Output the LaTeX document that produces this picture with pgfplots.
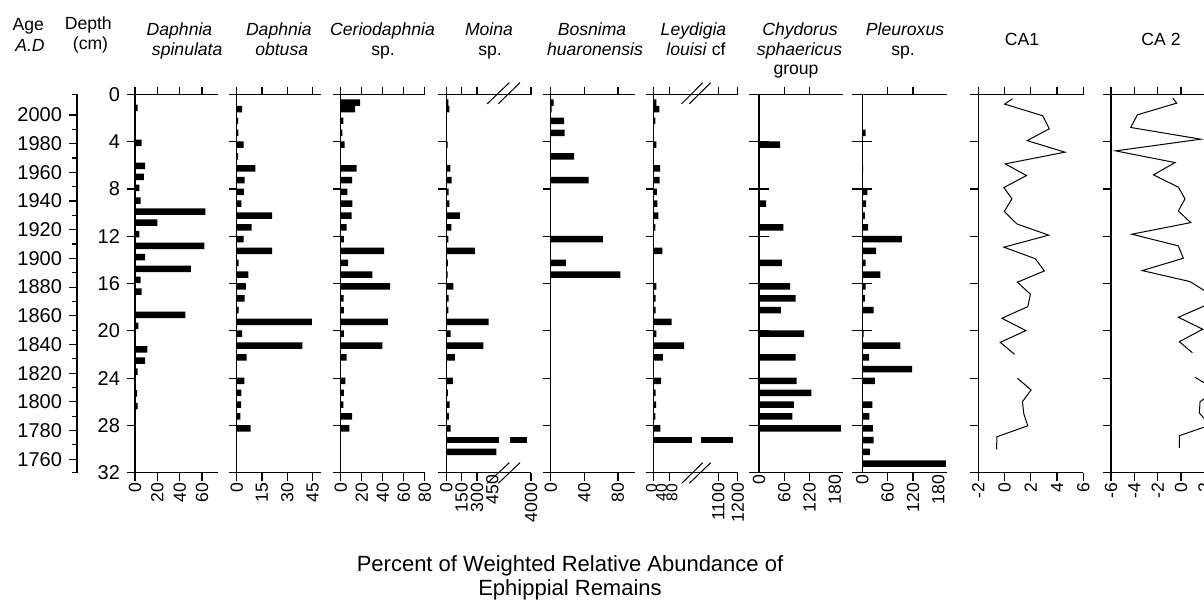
\documentclass[border=0pt]{standalone}
\usepackage{pgfplots}
\pgfplotsset{compat=1.18}
\usepackage{fontspec}
\setmainfont{Liberation Sans}
\newcommand\fa{\fontsize{8.8pt}{10.5pt}\selectfont}
\newcommand\fb{\fontsize{10pt}{12pt}\selectfont}
\newcommand\fc{\fontsize{11pt}{13pt}\selectfont}
\newcommand\fs{\fontsize{7.8pt}{9pt}\selectfont}
\newcommand\pframe{%
  \draw[line width=0.7pt] (rel axis cs:0,0) -- (rel axis cs:0,1);
  \draw[line width=0.7pt] (rel axis cs:0,0) -- (rel axis cs:1,0);
  \draw[line width=0.7pt] (rel axis cs:0,1) -- (rel axis cs:1,1);}
\pgfplotsset{
  panel/.style={
    scale only axis, height=189.1pt, anchor=north west,
    ymin=0, ymax=32, y dir=reverse,
    axis line style={draw=none},
    tick align=outside, major tick length=4pt,
    tick style={line width=0.6pt, color=black},
    xtick pos=both, ytick pos=left, xticklabel pos=lower,
    ytick={0,4,...,32}, yticklabels={},
    xticklabel style={rotate=90, anchor=east, font=\fa, inner sep=1pt},
    extra x tick style={major tick length=0pt},
    clip=false,
  },
  bars/.style={xbar, bar width=0.55, bar shift=0pt, fill=black, draw=none},
}
\begin{document}
\begin{tikzpicture}
% ---------------- Age axis
\begin{axis}[scale only axis, width=1pt, height=189.1pt, anchor=north west, at={(38.5pt,-47.25pt)},
  ymin=1750.6, ymax=2014.3, xmin=0, xmax=1, axis line style={draw=none},
  xtick=\empty, ytick pos=left, tick align=outside,
  ytick={1760,1780,...,2000},
  yticklabels={1760,1780,1800,1820,1840,1860,1880,1900,1920,1940,1960,1980,2000},
  minor ytick={1770,1790,...,1990},
  extra y ticks={1750.6,2014.3}, extra y tick labels={},
  extra y tick style={major tick length=2.5pt},
  major tick length=4pt, minor tick length=2.5pt,
  tick style={line width=0.6pt, black},
  yticklabel style={font=\fb}, clip=false]
\draw[line width=0.7pt] (rel axis cs:0,0) -- (rel axis cs:0,1);
\end{axis}
% ---------------- Daphnia spinulata
\begin{axis}[panel, at={(67.5pt,-47.25pt)}, width=41.5pt, xmin=0, xmax=74.3,
  xtick={0,20,40,60}, xticklabels={0,20,40,60},
  yticklabels={0,4,8,12,16,20,24,28,32}, yticklabel style={font=\fb}]
\addplot[bars] coordinates {(2.4,1.13) (6,4.09) (9,6.04) (8,6.97) (4,7.9) (5,8.98) (63,9.91) (20,10.84) (4,11.82) (62,12.81) (9,13.77) (50,14.76) (5,15.69) (6,16.68) (45,18.65) (3,19.58) (11,21.56) (9,22.52) (2.4,23.45) (1.8,25.28) (2.4,26.36)};
\pframe
\end{axis}
% ---------------- Daphnia obtusa
\begin{axis}[panel, at={(118.35pt,-47.25pt)}, width=42.15pt, xmin=0, xmax=50,
  xtick={0,15,30,45}, xticklabels={0,15,30,45}]
\addplot[bars] coordinates {(3.2,1.24) (0.8,2.24) (1,3.24) (4.1,4.24) (0.8,5.24) (11,6.24) (4.7,7.24) (4.3,8.24) (2.8,9.24) (21,10.24) (8.9,11.24) (4.1,12.24) (21,13.24) (1.2,14.24) (6.9,15.24) (5.5,16.24) (4.7,17.24) (1.2,18.24) (44.6,19.24) (3.2,20.24) (39,21.24) (5.9,22.24) (4.5,24.24) (2.8,25.24) (2.6,26.24) (2.2,27.24) (8.3,28.24)};
\pframe
\end{axis}
% ---------------- Ceriodaphnia
\begin{axis}[panel, at={(170.35pt,-47.25pt)}, width=42pt, xmin=0, xmax=80,
  xtick={0,20,40,60,80}, xticklabels={0,20,40,60,80}]
\addplot[bars] coordinates {(18.4,0.68) (13.7,1.24) (2.5,2.24) (1.6,3.24) (3.8,4.24) (15.2,6.24) (10.8,7.24) (6.3,8.24) (11.1,9.24) (10.5,10.24) (5.7,11.24) (2.9,12.24) (41.3,13.24) (7,14.24) (30.2,15.24) (47,16.24) (2.8,17.24) (2.9,18.24) (44.8,19.24) (2.9,20.24) (39.7,21.24) (5.7,22.24) (4.4,24.24) (2.9,25.24) (2.5,26.24) (10.8,27.24) (8.3,28.24)};
\pframe
\end{axis}
% ---------------- Moina (broken axis: 4000 drawn at 829)
\begin{axis}[panel, at={(223.15pt,-47.25pt)}, width=42.35pt, xmin=0, xmax=829,
  xtick={0,150,300,829}, xticklabels={0,150,300,4000},
  extra x ticks={450}, extra x tick labels={450}]
\addplot[bars] coordinates {(20,0.68) (29,1.24) (13,4.24) (39,6.24) (52,7.24) (23,8.24) (29,9.24) (134,10.24) (49,11.24) (20,12.24) (280,13.24) (16,14.24) (13,15.24) (68,16.24) (23,17.24) (20,18.24) (414,19.24) (42,20.24) (362,21.24) (85,22.24) (65,24.24) (16,25.24) (33,26.24) (26,27.24) (42,28.24) (489,30.24)};
\addplot[bars] coordinates {(792,29.24)};
\addplot[xbar, bar width=0.7, bar shift=0pt, fill=white, draw=none] coordinates {(623,29.24)};
\addplot[bars] coordinates {(516,29.24)};
\pframe
\draw[line width=0.5pt] ([yshift=-4.65pt]axis cs:401,0) -- ([yshift=5.9pt]axis cs:616,0);
\draw[line width=0.5pt] ([yshift=-4.65pt]axis cs:509,0) -- ([yshift=5.9pt]axis cs:721,0);
\draw[line width=0.5pt] ([yshift=-5.3pt]axis cs:401,32) -- ([yshift=5pt]axis cs:616,32);
\draw[line width=0.5pt] ([yshift=-5.3pt]axis cs:509,32) -- ([yshift=5pt]axis cs:721,32);
\end{axis}
% ---------------- Bosmina
\begin{axis}[panel, at={(275.35pt,-47.25pt)}, width=42pt, xmin=0, xmax=100,
  xtick={0,40,80}, xticklabels={0,40,80}]
\addplot[bars] coordinates {(3.6,0.68) (1,1.24) (16,2.24) (16.7,3.24) (28,5.24) (45,7.24) (62,12.24) (18,14.24) (83,15.24)};
\pframe
\end{axis}
% ---------------- Leydigia (broken axis: 1100 at 334.5, 1200 at 434.5)
\begin{axis}[panel, at={(326.85pt,-47.25pt)}, width=42pt, xmin=0, xmax=434.5,
  xtick={0,80,334.5,434.5}, xticklabels={,,1100,1200}]
\addplot[bars] coordinates {(14,0.68) (29,1.24) (9,2.24) (14,4.24) (33,6.24) (31,7.24) (17,8.24) (19,9.24) (24,10.24) (9,11.24) (45,13.24) (14,16.24) (10,17.24) (10,18.24) (93,19.24) (14,20.24) (157,21.24) (48,22.24) (38,24.24) (10,25.24) (12,26.24) (9,27.24) (34,28.24)};
\addplot[bars] coordinates {(412,29.24)};
\addplot[xbar, bar width=0.7, bar shift=0pt, fill=white, draw=none] coordinates {(245,29.24)};
\addplot[bars] coordinates {(200,29.24)};
\pframe
\draw[line width=0.5pt] ([yshift=-4.65pt]axis cs:144.9,0) -- ([yshift=5.9pt]axis cs:253.5,0);
\draw[line width=0.5pt] ([yshift=-4.65pt]axis cs:184.2,0) -- ([yshift=5.9pt]axis cs:294.9,0);
\draw[line width=0.5pt] ([yshift=-5.3pt]axis cs:144.9,32) -- ([yshift=5pt]axis cs:253.5,32);
\draw[line width=0.5pt] ([yshift=-5.3pt]axis cs:184.2,32) -- ([yshift=5pt]axis cs:294.9,32);
\node[rotate=90, anchor=east, font=\fs, inner sep=1pt] at ([yshift=-4.5pt]axis cs:-12,32) {0};
\node[rotate=90, anchor=east, font=\fs, inner sep=1pt] at ([yshift=-4.5pt]axis cs:40,32) {40};
\node[rotate=90, anchor=east, font=\fs, inner sep=1pt] at ([yshift=-4.5pt]axis cs:94,32) {80};
\end{axis}
% ---------------- Chydorus
\begin{axis}[panel, at={(379.5pt,-47.25pt)}, width=42.15pt, xmin=0, xmax=200,
  xtick={60,120}, xticklabels={60,120}, ytick=\empty,
  extra x ticks={0,180}, extra x tick labels={0,180}]
\addplot[bars] coordinates {(50,4.24) (17,9.24) (58,11.24) (54,14.24) (74,16.24) (87,17.24) (52,18.24) (107,20.24) (87,22.24) (89,24.24) (124,25.24) (83,26.24) (79,27.24) (194,28.24)};
\pframe
\pgfplotsinvokeforeach{0,4,...,32}{\draw[line width=0.6pt] ([xshift=-5pt]axis cs:0,#1) -- ([xshift=5pt]axis cs:0,#1);}
\end{axis}
% ---------------- Pleuroxus
\begin{axis}[panel, at={(431.15pt,-47.25pt)}, width=42.2pt, xmin=0, xmax=200,
  xtick={60,120}, xticklabels={60,120}, ytick=\empty,
  extra x ticks={0,180}, extra x tick labels={0,180}]
\addplot[bars] coordinates {(8,3.24) (2,6.24) (12,8.24) (9,9.24) (6,10.24) (14,11.24) (94,12.24) (33,13.24) (8,14.24) (43,15.24) (8,16.24) (6,17.24) (27,18.24) (3,20.24) (90,21.24) (16,22.24) (118,23.24) (30,24.24) (24,26.24) (17,27.24) (25,28.24) (27,29.24) (18,30.24) (198,31.24)};
\pframe
\pgfplotsinvokeforeach{0,4,...,32}{\draw[line width=0.6pt] ([xshift=-5pt]axis cs:0,#1) -- ([xshift=5pt]axis cs:0,#1);}
\end{axis}
% ---------------- CA1
\begin{axis}[panel, at={(489.15pt,-47.25pt)}, width=52.5pt, xmin=-2, xmax=6,
  xtick={-2,0,2,4,6}, xticklabels={-2,0,2,4,6}]
\addplot[black, line width=0.5pt] coordinates {(0.61,0.36) (0,0.81) (2.91,1.8) (3.41,2.9) (1.72,3.9) (4.6,4.88) (0.05,5.87) (1.67,6.86) (-0.05,7.87) (0.56,8.83) (-0.02,9.9) (0.94,10.95) (3.36,11.9) (-0.05,12.92) (2.35,13.9) (3.03,14.93) (0.98,15.88) (1.97,16.9) (1.77,17.95) (-0.2,18.93) (1.62,19.98) (-0.33,20.97) (0.76,21.98)};
\addplot[black, line width=0.5pt] coordinates {(0.98,24.01) (2.02,25.0) (1.36,26.0) (1.47,27.04) (1.77,28.03) (-0.58,28.96) (-0.61,30.03)};
\pframe
\end{axis}
% ---------------- CA2
\begin{axis}[panel, at={(555.5pt,-47.25pt)}, width=58.35pt, xmin=-6, xmax=4,
  xtick={-6,-4,-2,0,2,4}, xticklabels={-6,-4,-2,0,2,4}]
\addplot[black, line width=0.5pt] coordinates {(-0.71,0.3) (-0.37,0.73) (-3.74,1.72) (-4.31,2.79) (1.69,3.78) (-5.6,4.77) (-0.51,5.76) (-2.37,6.8) (-0.23,7.84) (0.34,8.83) (-0.23,9.85) (0.83,10.84) (-4.22,11.82) (-0.23,12.81) (0.2,13.85) (-3.32,14.9) (0.77,15.83) (2.5,16.9) (2.2,17.8) (-0.23,18.85) (1.86,19.86) (-0.14,20.91) (0.97,21.85)};
\addplot[black, line width=0.5pt] coordinates {(1.2,23.93) (3.0,25.0) (1.63,26.0) (1.57,26.95) (2.5,27.97) (-0.15,28.87) (-0.15,29.89)};
\pframe
\end{axis}
% ---------------- headers
\begin{scope}[every node/.style={anchor=base, inner sep=0pt, font=\fa}]
\node at (14.15pt,-15.5pt) {Age};
\node at (15pt,-25.85pt) {\itshape A.D};
\node at (44.15pt,-14.75pt) {Depth};
\node at (45.25pt,-25pt) {(cm)};
\node at (89.75pt,-18pt) {\itshape Daphnia};
\node at (93.6pt,-27.75pt) {\itshape spinulata};
\node at (139.4pt,-18pt) {\itshape Daphnia};
\node at (140.85pt,-27.75pt) {\itshape obtusa};
\node at (191.25pt,-18pt) {\itshape Ceriodaphnia};
\node at (191.5pt,-27.75pt) {sp.};
\node at (244.5pt,-18pt) {\itshape Moina};
\node at (245pt,-27.75pt) {sp.};
\node at (296pt,-18pt) {\itshape Bosnima};
\node at (297.5pt,-27.75pt) {\itshape huaronensis};
\node at (346.75pt,-18pt) {\itshape Leydigia};
\node at (348pt,-27.75pt) {\itshape louisi\/\upshape{} cf};
\node at (400pt,-18pt) {\itshape Chydorus};
\node at (399.75pt,-27.75pt) {\itshape sphaericus};
\node at (398pt,-37.5pt) {group};
\node at (452.5pt,-18pt) {\itshape Pleuroxus};
\node at (451.5pt,-27.75pt) {sp.};
\node at (511pt,-23pt) {CA1};
\node at (580.5pt,-23pt) {CA 2};
\end{scope}
\node[anchor=base, inner sep=0pt, font=\fc] at (285pt,-285.5pt) {Percent of Weighted Relative Abundance of};
\node[anchor=base, inner sep=0pt, font=\fc] at (285pt,-297.5pt) {Ephippial Remains};
\pgfresetboundingbox
\path[use as bounding box] (0,0) rectangle (602pt,-302pt);
\end{tikzpicture}
\end{document}
